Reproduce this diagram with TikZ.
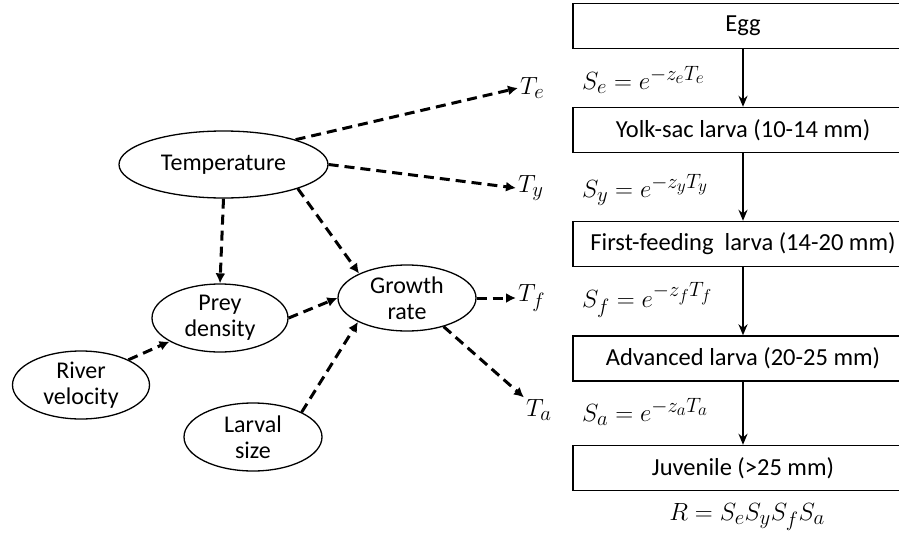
\documentclass[tikz,border=0pt]{standalone}
\usepackage{fontspec}
\setmainfont{Carlito}
\DeclareMathSizes{30}{30}{21.5}{17}
\usetikzlibrary{shapes.geometric,arrows.meta}
\tikzset{
  factor/.style={draw, ellipse, line width=1.3pt, inner sep=0pt, align=center,
                 font=\fontsize{24}{26}\selectfont},
  stage/.style={draw, rectangle, line width=1.4pt, minimum width=340, minimum height=45,
                inner sep=0pt, font=\fontsize{24.5}{26}\selectfont},
  mathlbl/.style={inner sep=2pt, font=\fontsize{30}{32}\selectfont},
  link/.style={line width=3pt, dash pattern=on 10pt off 6pt, -{Latex[length=10pt,width=10pt]}},
  flow/.style={line width=2.4pt, -{Stealth[length=11pt,width=9pt]}}
}
\begin{document}
\begin{tikzpicture}[x=1pt, y=-1pt]
      \clip (0,0) rectangle (899,535);
      \node (temp) [factor, minimum width=209, minimum height=67] at (223.5,164.5) {Temperature};
      \node (prey) [factor, minimum width=136, minimum height=68] at (220,318) {Prey\\density};
      \node (growth) [factor, minimum width=138, minimum height=66] at (407,298) {Growth\\rate};
      \node (river) [factor, minimum width=137, minimum height=68] at (81,385) {River\\velocity};
      \node (larval) [factor, minimum width=138, minimum height=68] at (253,437) {Larval\\size};
      \node (te) [mathlbl, anchor=west] at (518,88) {$T_e$};
      \node (ty) [mathlbl, anchor=west] at (516,188) {$T_y$};
      \node (tf) [mathlbl, anchor=west] at (516,298) {$T_f$};
      \node (ta) [mathlbl, anchor=west] at (524,410) {$T_a$};
      \draw[link] (temp.19) -- (te.west);
      \draw[link] (temp.east) -- (ty.west);
      \draw[link] (temp.-18) -- (growth.153);
      \draw[link] (temp.south) -- (prey.north);
      \draw[link] (prey.east) -- (growth.west);
      \draw[link] (river.28) -- (prey.205);
      \draw[link] (larval.27) -- (growth.206);
      \draw[link] (growth.east) -- (tf.west);
      \draw[link] (growth.-38) -- (ta.north west);
      \node (egg) [stage] at (743,26) {Egg};
      \node (yolk) [stage] at (743,130) {Yolk-sac larva (10-14 mm)};
      \node (first) [stage] at (743,244) {First-feeding~ larva (14-20 mm)};
      \node (adv) [stage] at (743,358.5) {Advanced larva (20-25 mm)};
      \node (juv) [stage] at (743,468) {Juvenile (>25 mm)};
      \draw[flow] (egg) -- (yolk);
      \draw[flow] (yolk) -- (first);
      \draw[flow] (first) -- (adv);
      \draw[flow] (adv) -- (juv);
      \node (se) [mathlbl, anchor=west] at (580,80) {$S_e=e^{-z_eT_e}$};
      \node (sy) [mathlbl, anchor=west] at (580,190) {$S_y=e^{-z_yT_y}$};
      \node (sf) [mathlbl, anchor=west] at (580,300) {$S_f=e^{-z_fT_f}$};
      \node (sa) [mathlbl, anchor=west] at (580,412) {$S_a=e^{-z_aT_a}$};
      \node (r) [mathlbl] at (747,517) {$R=S_eS_yS_fS_a$};
\end{tikzpicture}
\end{document}
